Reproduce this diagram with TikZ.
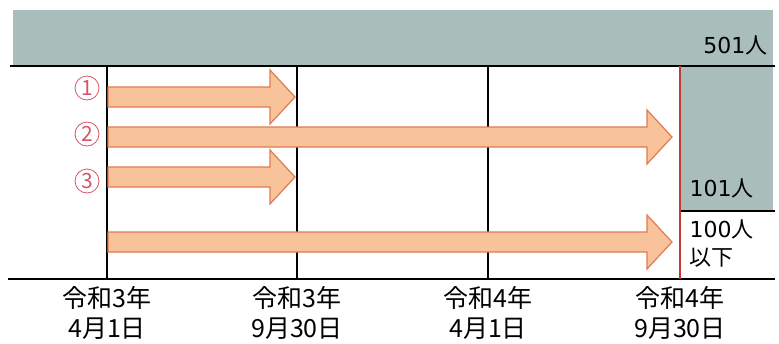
\documentclass[tikz,border=0pt]{standalone}
\usepackage{fontspec}
\setmainfont{Noto Sans CJK JP}
\newfontfamily\numfont{DejaVu Sans}
\definecolor{bandgray}{HTML}{A9BDBB}
\definecolor{arrowfill}{HTML}{F8C39A}
\definecolor{arrowedge}{HTML}{E07A50}
\definecolor{linered}{HTML}{C23A35}
\definecolor{numred}{HTML}{D65468}
\tikzset{
  grid/.style={black, line width=1.2pt},
  blockarrow/.style={fill=arrowfill, draw=arrowedge, line width=1.2pt, line join=miter},
  circnum/.style={circle, draw=numred, text=numred, line width=0.8pt, inner sep=0pt, minimum size=24pt, font=\fontsize{21}{21}\selectfont},
  datelabel/.style={align=center, font=\fontsize{25}{30}\selectfont},
  countlabel/.style={font=\fontsize{22}{28}\selectfont}
}
\begin{document}
\begin{tikzpicture}[x=1pt, y=-1pt]
\useasboundingbox (0,0) rectangle (779,343);
    % shaded bands
    \fill[bandgray] (13,10) rectangle (773,65);
    \fill[bandgray] (680,65) rectangle (773,211);
    %
    \draw[grid] (10,66) -- (775,66);
    \draw[grid] (8,279) -- (775,279);
    \draw[grid] (680,211) -- (775,211);
    \draw[grid] (107,66) -- (107,279);
    \draw[grid] (297,66) -- (297,279);
    \draw[grid] (488,66) -- (488,279);
    \draw[linered, line width=1.4pt] (680,66) -- (680,279);
    %
    \draw[blockarrow] (108,87) -- (270,87) -- (270,70) -- (295,97) -- (270,124) -- (270,107) -- (108,107) -- cycle;
    \draw[blockarrow] (108,127) -- (647,127) -- (647,110) -- (672,137) -- (647,164) -- (647,147) -- (108,147) -- cycle;
    \draw[blockarrow] (108,167) -- (270,167) -- (270,150) -- (295,177) -- (270,204) -- (270,187) -- (108,187) -- cycle;
    \draw[blockarrow] (108,232) -- (647,232) -- (647,215) -- (672,242) -- (647,269) -- (647,252) -- (108,252) -- cycle;
    %
    \node[circnum] (n1) at (87,88) {1};
    \node[circnum] (n2) at (87,134) {2};
    \node[circnum] (n3) at (87,181) {3};
    %
    \node[countlabel, anchor=east] (c501) at (771,45) {{\numfont 501}人};
    \node[countlabel, anchor=west] (c101) at (686,188) {{\numfont 101}人};
    \node[countlabel, anchor=west, align=left] (c100) at (686,244) {{\numfont 100}人\\以下};
    %
    \node[datelabel] (d1) at (107,313) {令和3年\\4月1日};
    \node[datelabel] (d2) at (297,313) {令和3年\\9月30日};
    \node[datelabel] (d3) at (488,313) {令和4年\\4月1日};
    \node[datelabel] (d4) at (680,313) {令和4年\\9月30日};
\end{tikzpicture}
\end{document}
